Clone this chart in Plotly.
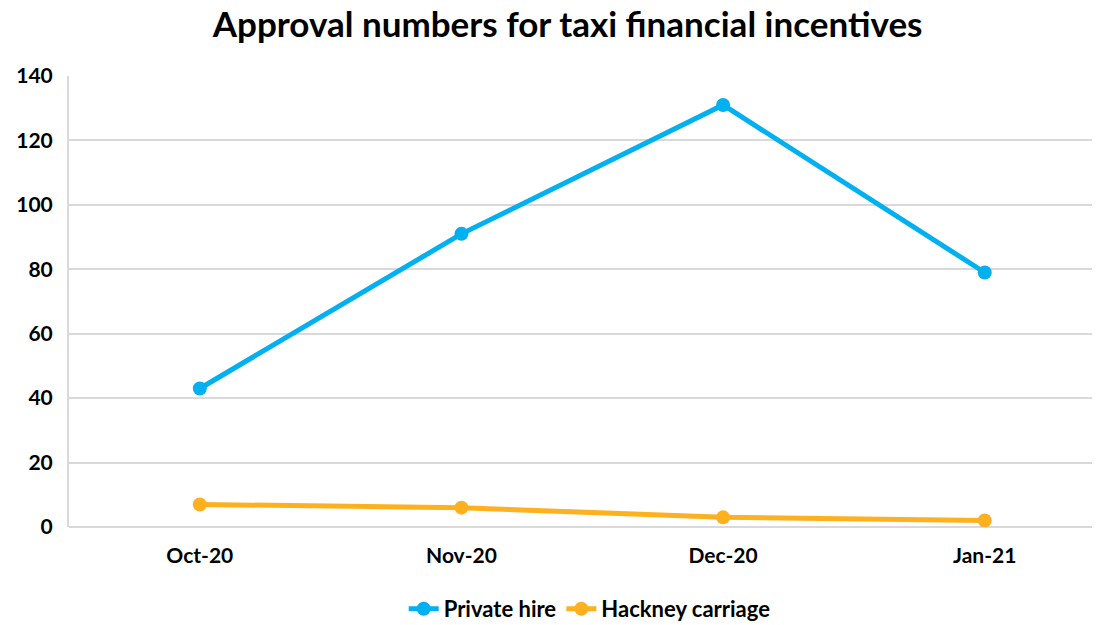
import plotly.graph_objects as go

months = ["Oct-20", "Nov-20", "Dec-20", "Jan-21"]
private_hire = [43, 91, 131, 79]
hackney_carriage = [7, 6, 3, 2]
y_ticks = [0, 20, 40, 60, 80, 100, 120, 140]

FONT = "Lato"
fig = go.Figure()
fig.add_trace(go.Scatter(x=months, y=private_hire, name="<b>Private hire</b>", mode="lines+markers",
                         line=dict(color="#00B0F0", width=5), marker=dict(size=14, color="#00B0F0")))
fig.add_trace(go.Scatter(x=months, y=hackney_carriage, name="<b>Hackney carriage</b>", mode="lines+markers",
                         line=dict(color="#FFB01F", width=5), marker=dict(size=14, color="#FFB01F")))

fig.update_layout(
    width=1106, height=625,
    paper_bgcolor="white", plot_bgcolor="white",
    margin=dict(l=61, r=22, t=68, b=106, autoexpand=False),
    title=dict(text="<b>Approval numbers for taxi financial incentives</b>", x=0.506, xanchor="center",
               yref="container", y=1 - 17 / 625, yanchor="middle",
               font=dict(family=FONT, size=35, color="black")),
    font=dict(family=FONT, color="black"),
    xaxis=dict(type="category", range=[-0.5, 3.41], showgrid=False, zeroline=False,
               showline=False, ticks="", tickvals=months, ticktext=[f"<b>{m}</b>" for m in months],
               ticklabelstandoff=14, tickfont=dict(size=21, family=FONT, color="black")),
    yaxis=dict(range=[0, 140], tickvals=y_ticks, ticktext=[f"<b>{v}</b>" for v in y_ticks],
               showgrid=True, gridcolor="#D9D9D9", gridwidth=1.5, zeroline=True,
               zerolinecolor="#D9D9D9", zerolinewidth=2, showline=True, linecolor="#D9D9D9",
               linewidth=2, ticks="", ticklabelstandoff=10,
               tickfont=dict(size=21, family=FONT, color="black")),
    legend=dict(orientation="h", x=0.509, xanchor="center", yref="container", y=24 / 625, yanchor="middle",
                font=dict(size=22, family=FONT, color="black")),
    showlegend=True,
)
fig.write_html("out.html")
